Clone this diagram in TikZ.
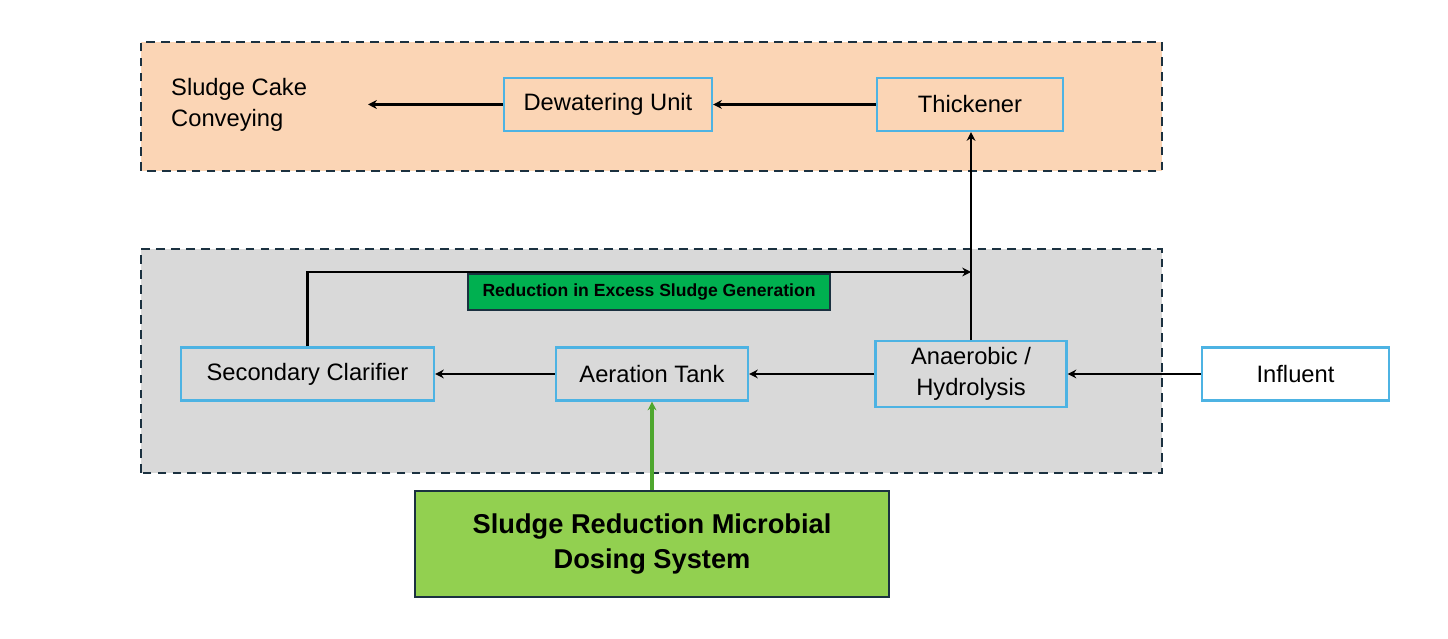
\documentclass[tikz,border=0pt]{standalone}
\usepackage{fontspec}
\setmainfont{Liberation Sans}
\usepackage{tikz}
\usetikzlibrary{arrows.meta}

\definecolor{peach}{HTML}{FBD5B5}
\definecolor{panelgray}{HTML}{D9D9D9}
\definecolor{edgedark}{HTML}{1B3140}
\definecolor{boxblue}{HTML}{4DB3E3}
\definecolor{labelgreen}{HTML}{00B050}
\definecolor{dosegreen}{HTML}{92D050}
\definecolor{feedgreen}{HTML}{4EA72E}

\begin{document}
\begin{tikzpicture}[
        stage/.style={draw=boxblue, line width=1.2pt, minimum height=1.06cm, font=\fontsize{13.5}{18}\selectfont},
        panel/.style={draw=edgedark, line width=1.2pt, dash pattern=on 5pt off 3.5pt},
        flow/.style={line width=1.4pt, -{Stealth[length=5pt,width=5pt]}}
    ]
        \useasboundingbox (0,0) rectangle (28.96,12.76);
        % panels
        \filldraw[panel, fill=peach] (2.82,9.34) rectangle (23.24,11.92);
        \filldraw[panel, fill=panelgray] (2.82,3.30) rectangle (23.24,7.78);

        % sludge handling
        \node[stage, minimum width=4.16cm] (dew) at (12.16,10.67) {Dewatering Unit};
        \node[stage, minimum width=3.72cm] (thk) at (19.40,10.67) {Thickener};
        \node[anchor=west, align=left, font=\fontsize{13.5}{18}\selectfont] (cake) at (3.30,10.66) {Sludge Cake\\Conveying};
        \coordinate (cakein) at (7.36,10.67);

        % treatment line
        \node[stage, minimum width=5.06cm, fill=panelgray] (sec) at (6.15,5.28) {Secondary Clarifier};
        \node[stage, minimum width=3.84cm, fill=panelgray] (aer) at (13.04,5.28) {Aeration Tank};
        \node[stage, minimum width=3.82cm, minimum height=1.24cm, align=center, fill=panelgray] (ana) at (19.42,5.28) {Anaerobic /\\Hydrolysis};
        \node[stage, minimum width=3.74cm, fill=white] (inf) at (25.91,5.28) {Influent};
        \node[draw=edgedark, line width=1.1pt, fill=labelgreen, minimum width=7.24cm, minimum height=0.72cm, font=\bfseries\fontsize{10}{12}\selectfont] (red) at (12.98,6.92) {Reduction in Excess Sludge Generation};
        \node[draw=edgedark, line width=1.2pt, fill=dosegreen, minimum width=9.48cm, minimum height=2.12cm, align=center, font=\bfseries\fontsize{15.5}{20}\selectfont] (dose) at (13.04,1.88) {Sludge Reduction Microbial\\Dosing System};
        \coordinate (ret) at (ana.north |- 0,7.32);

        % connectors
        \draw[flow] (thk) -- (dew);
        \draw[flow] (dew) -- (cakein);
        \draw[flow] (ana.north) -- (ana.north |- thk.south);
        \draw[flow] (sec.north) |- (ret);
        \draw[flow] (inf) -- (ana);
        \draw[flow] (ana) -- (aer);
        \draw[flow] (aer) -- (sec);
        \draw[flow, feedgreen, line width=2pt] (dose) -- (aer);
    \end{tikzpicture}
\end{document}
